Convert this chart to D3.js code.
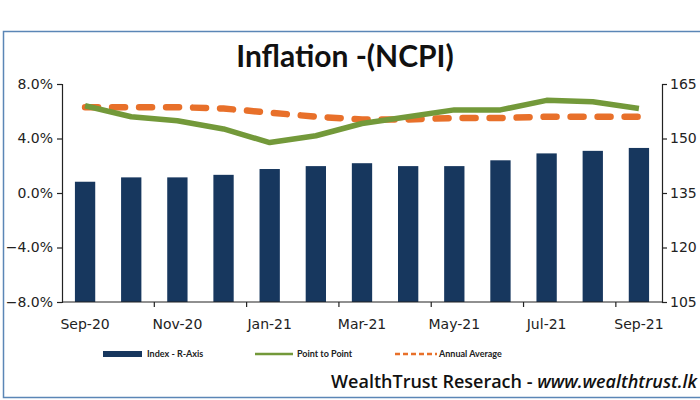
<!DOCTYPE html>
<html>
<head>
<meta charset="utf-8">
<script src="https://cdn.jsdelivr.net/npm/d3@7"></script>
<style>
  html, body { margin: 0; padding: 0; background: #fff; }
  svg { display: block; }
</style>
</head>
<body>
<svg id="chart" width="700" height="400"></svg>
<script>
// ---- data ----
const months = ["Sep-20","Oct-20","Nov-20","Dec-20","Jan-21","Feb-21","Mar-21","Apr-21","May-21","Jun-21","Jul-21","Aug-21","Sep-21"];
const indexValues = [138.1, 139.3, 139.3, 140.0, 141.6, 142.4, 143.2, 142.4, 142.4, 144.0, 145.9, 146.6, 147.4];
const pointToPoint = [6.4, 5.6, 5.3, 4.7, 3.7, 4.2, 5.1, 5.6, 6.1, 6.1, 6.8, 6.7, 6.2];
const annualAverage = [6.3, 6.3, 6.3, 6.2, 5.9, 5.6, 5.4, 5.4, 5.5, 5.5, 5.6, 5.6, 5.6];
const leftTicks = [-0.08, -0.04, 0, 0.04, 0.08];
const rightTicks = [105, 120, 135, 150, 165];
const xLabelMonths = ["Sep-20","Nov-20","Jan-21","Mar-21","May-21","Jul-21","Sep-21"];
const legendLabels = ["Index - R-Axis", "Point to Point", "Annual Average"];

// ---- layout ----
const svg = d3.select("#chart");
const L = 62, R = 662, T = 84, B = 302;
const navy = "#17375E", green = "#73993A", orange = "#E8702A";
const axisFont = "DejaVu Sans, sans-serif";

// frame
svg.append("rect").attr("x", 3.5).attr("y", 31.5).attr("width", 720).attr("height", 366)
  .attr("fill", "none").attr("stroke", "#5B86B6").attr("stroke-width", 1.5);

const x = d3.scaleBand().domain(months).range([L, R]).paddingInner(0.56).paddingOuter(0.28);
const yL = d3.scaleLinear().domain([-0.08, 0.08]).range([B, T]);
const yR = d3.scaleLinear().domain([105, 165]).range([B, T]);
const cx = m => x(m) + x.bandwidth() / 2;

// bars
svg.append("g").selectAll("rect").data(months).join("rect")
  .attr("x", d => x(d))
  .attr("y", (d, i) => yR(indexValues[i]))
  .attr("width", x.bandwidth())
  .attr("height", (d, i) => B - yR(indexValues[i]))
  .attr("fill", navy);

// lines
const line = d3.line().x((d, i) => cx(months[i])).y(d => yL(d / 100));
svg.append("path").datum(annualAverage).attr("d", line)
  .attr("fill", "none").attr("stroke", orange).attr("stroke-width", 6.5)
  .attr("stroke-linecap", "round").attr("stroke-dasharray", "13,14");
svg.append("path").datum(pointToPoint).attr("d", line)
  .attr("fill", "none").attr("stroke", green).attr("stroke-width", 5.5)
  .attr("stroke-linejoin", "round");

// left axis
const gl = svg.append("g").attr("transform", `translate(${L},0)`)
  .call(d3.axisLeft(yL).tickValues(leftTicks).tickFormat(d3.format(".1%")).tickSize(5).tickPadding(4));
// right axis
const gr = svg.append("g").attr("transform", `translate(${R},0)`)
  .call(d3.axisRight(yR).tickValues(rightTicks).tickFormat(d3.format("d")).tickSize(5).tickPadding(3));
// bottom axis
const gb = svg.append("g").attr("transform", `translate(0,${B})`)
  .call(d3.axisBottom(x).tickValues(xLabelMonths).tickSize(0).tickPadding(17));
[gl, gr, gb].forEach(g => {
  g.select(".domain").attr("stroke", "#222").attr("stroke-width", 1.2);
  g.selectAll(".tick line").attr("stroke", "#222").attr("stroke-width", 1.2);
  g.selectAll("text").attr("font-family", axisFont).attr("font-size", 14).attr("fill", "#222");
});
gb.select(".domain").attr("d", `M${L},0H${R}`);
// boundary tick marks on the category axis
const boundaries = months.filter((m, i) => i > 0 && i % 2 === 0);
svg.append("g").selectAll("line").data(boundaries).join("line")
  .attr("x1", d => x(d) - (x.step() - x.bandwidth()) / 2)
  .attr("x2", d => x(d) - (x.step() - x.bandwidth()) / 2)
  .attr("y1", B).attr("y2", B + 5)
  .attr("stroke", "#222").attr("stroke-width", 1.2);

// title
svg.append("text").attr("x", 345).attr("y", 67).attr("text-anchor", "middle")
  .attr("font-family", "Lato, sans-serif").attr("font-weight", "bold").attr("font-size", 30)
  .attr("fill", "#111").text("Inflation -(NCPI)");

// legend
const ly = 354;
const leg = svg.append("g").attr("font-family", "Lato, sans-serif").attr("font-size", 9)
  .attr("font-weight", "bold").attr("fill", "#222");
leg.append("rect").attr("x", 103).attr("y", ly - 3).attr("width", 39).attr("height", 6).attr("fill", navy);
leg.append("text").attr("x", 147).attr("y", ly + 3).text(legendLabels[0]);
leg.append("line").attr("x1", 255).attr("x2", 293).attr("y1", ly).attr("y2", ly)
  .attr("stroke", green).attr("stroke-width", 2.5);
leg.append("text").attr("x", 297).attr("y", ly + 3).text(legendLabels[1]);
leg.append("line").attr("x1", 395).attr("x2", 437).attr("y1", ly).attr("y2", ly)
  .attr("stroke", orange).attr("stroke-width", 2.5).attr("stroke-dasharray", "5,3");
leg.append("text").attr("x", 439).attr("y", ly + 3).text(legendLabels[2]);

// footer
const ft = svg.append("text").attr("x", 697).attr("y", 388).attr("text-anchor", "end")
  .attr("font-family", "Open Sans, sans-serif").attr("font-weight", 600).attr("font-size", 18).attr("fill", "#111");
ft.append("tspan").text("WealthTrust Reserach - ");
ft.append("tspan").attr("font-style", "italic").attr("font-weight", 600).text("www.wealthtrust.lk");
</script>
</body>
</html>
